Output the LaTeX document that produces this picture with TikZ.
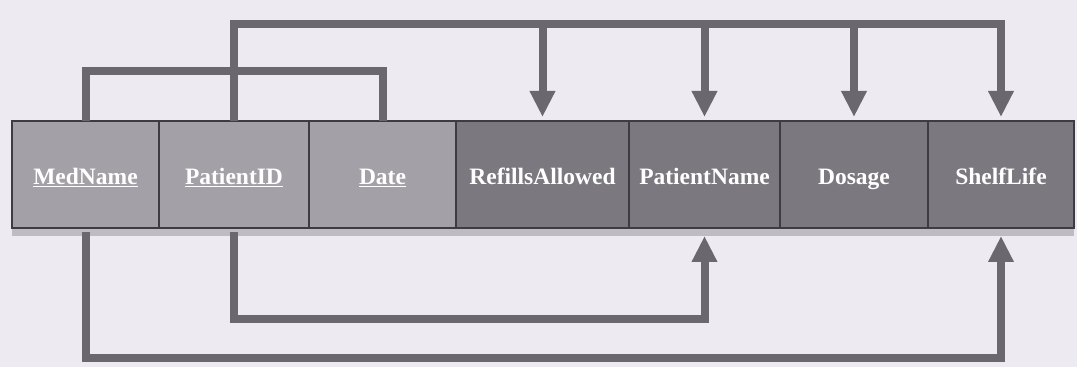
\documentclass[tikz,border=0pt]{standalone}
\usepackage{fontspec}
\setmainfont{Liberation Serif}
\usetikzlibrary{positioning,arrows.meta}
\definecolor{paper}{HTML}{EEEAF1}
\definecolor{keyfill}{HTML}{A3A1A7}
\definecolor{attrfill}{HTML}{7B797F}
\definecolor{wire}{HTML}{6A686E}
\definecolor{edge}{HTML}{3E3C42}
\begin{document}
\begin{tikzpicture}[x=1pt,y=1pt,
  field/.style={draw=edge,line width=1.2pt,minimum height=107pt,inner sep=0pt,outer sep=0pt,
    text height=22pt,text depth=1pt,text=white,font=\fontsize{23.5}{25}\selectfont\bfseries},
  keyfield/.style={field,fill=keyfill},
  attrfield/.style={field,fill=attrfill},
  link/.style={draw=wire,line width=8pt,line join=miter},
  arr/.style={link,-{Triangle[length=26pt,width=24pt]}}]
\useasboundingbox[fill=paper] (0,0) rectangle (1077,367);
% soft shadow under the row
\fill[paper!80!black] (12,131) rectangle (1074,139);
\node [keyfield,minimum width=147pt,anchor=south west,name=medname] at (12,139){\underline{MedName}};
\node [keyfield,minimum width=150pt,right=0pt of medname,name=patientid]{\underline{PatientID}};
\node [keyfield,minimum width=147pt,right=0pt of patientid,name=date]{\underline{Date}};
\node [attrfield,minimum width=173pt,right=0pt of date,name=refills]{RefillsAllowed};
\node [attrfield,minimum width=151pt,right=0pt of refills,name=patientname]{PatientName};
\node [attrfield,minimum width=148pt,right=0pt of patientname,name=dosage]{Dosage};
\node [attrfield,minimum width=146pt,right=0pt of dosage,name=shelflife]{ShelfLife};
\coordinate (topline) at (0,343);
% composite key
\draw[link] (medname.north) -- ++(0,50) -| (date.north);
% PatientID determines the patient attributes
\draw[arr,shorten >=4pt] (patientid.north) |- (topline -| shelflife.north) -- (shelflife.north);
\foreach \f in {refills,patientname,dosage}
  \draw[arr,shorten >=4pt] (topline -| \f.north) -- (\f.north);
\draw[arr,shorten <=4pt,shorten >=8pt] (patientid.south) -- ++(0,-91) -| (patientname.south);
% MedName determines ShelfLife
\draw[arr,shorten <=4pt,shorten >=8pt] (medname.south) -- ++(0,-130) -| (shelflife.south);
\end{tikzpicture}
\end{document}
